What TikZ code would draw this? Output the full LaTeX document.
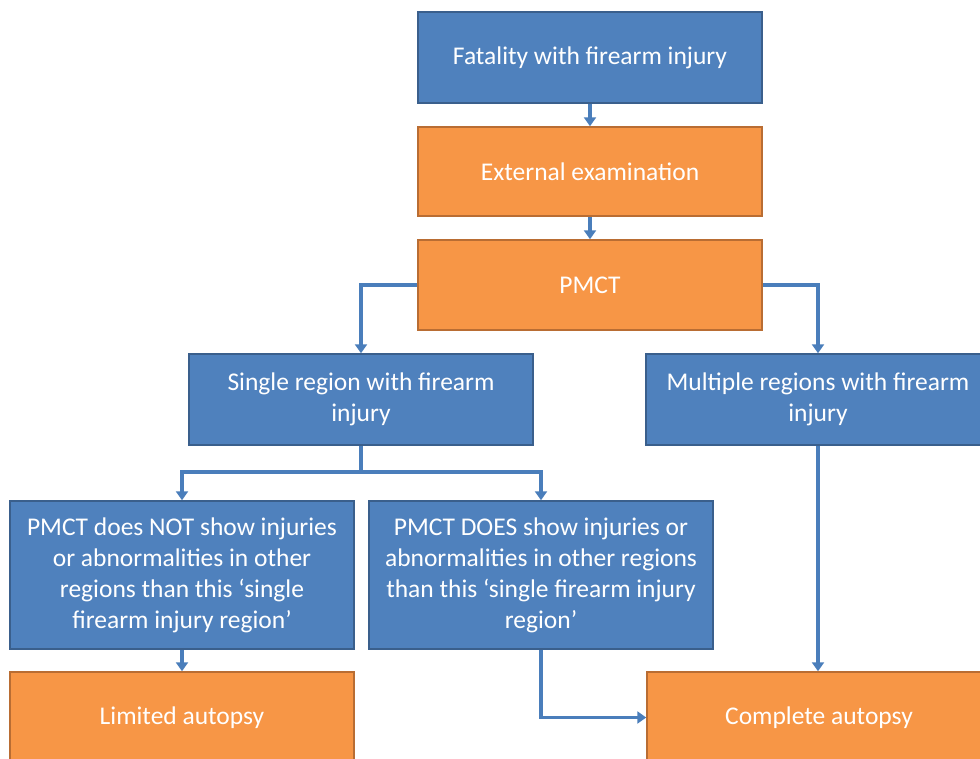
\documentclass[tikz,border=0pt]{standalone}
\usepackage{fontspec}
\setmainfont{Carlito}
\usetikzlibrary{arrows.meta}
\definecolor{bfill}{HTML}{4F81BD}
\definecolor{bdraw}{HTML}{3A5F8C}
\definecolor{ofill}{HTML}{F79646}
\definecolor{odraw}{HTML}{B96D33}
\definecolor{conn}{HTML}{4A7EBB}
\tikzset{
  box/.style={rectangle, minimum width=344pt, text=white, align=center,
    font=\fontsize{25.5}{31}\selectfont, line width=1.5pt, inner sep=0pt},
  bluebox/.style={box, fill=bfill, draw=bdraw},
  orangebox/.style={box, fill=ofill, draw=odraw},
  link/.style={draw=conn, line width=3.5pt, -{Triangle[width=12pt,length=9pt]}},
  plain/.style={draw=conn, line width=3.5pt}
}
\begin{document}
\begin{tikzpicture}[x=1pt,y=-1pt]
\useasboundingbox (0,0) rectangle (980,758);
\fill[white] (0,0) rectangle (980,758);
\node[bluebox, minimum height=91pt] (A) at (590,57.5) {Fatality with firearm injury};
\node[orangebox, minimum height=89pt] (B) at (590,171.5) {External examination};
\node[orangebox, minimum height=90pt] (C) at (590,285) {PMCT};
\node[bluebox, minimum height=91pt] (D) at (361,399.5) {Single region with firearm\\injury};
\node[bluebox, minimum height=91pt] (E) at (818,399.5) {Multiple regions with firearm\\injury};
\node[bluebox, minimum height=148pt] (F) at (182,575) {PMCT does NOT show injuries\\or abnormalities in other\\regions than this ‘single\\firearm injury region’};
\node[bluebox, minimum height=148pt] (G) at (541,575) {PMCT DOES show injuries or\\abnormalities in other regions\\than this ‘single firearm injury\\region’};
\node[orangebox, minimum height=91pt] (H) at (182,717.5) {Limited autopsy};
\node[orangebox, minimum height=91pt] (I) at (819,717.5) {Complete autopsy};
\coordinate (J) at (361,472);
\draw[link] (A) -- (B);
\draw[link] (B) -- (C);
\draw[link] (C.west) -| (D.north);
\draw[link] (C.east) -| (E.north);
\draw[plain] (D.south) -- (J);
\draw[link] (J) -| (F.north);
\draw[link] (J) -| (G.north);
\draw[link] (F) -- (H);
\draw[link] (G.south) |- (I.west);
\draw[link] (E.south) -- (E.south |- I.north);
\end{tikzpicture}
\end{document}
